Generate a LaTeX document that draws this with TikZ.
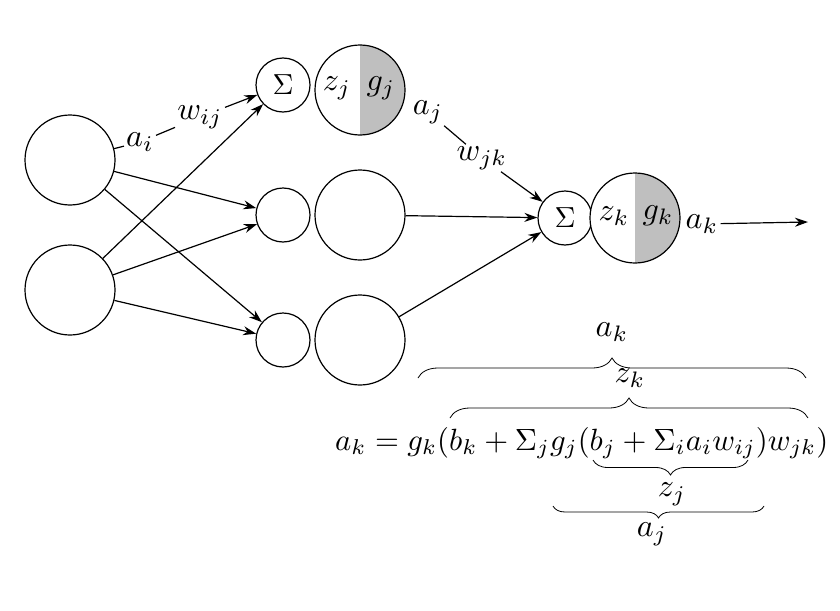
\documentclass[tikz,border=0pt]{standalone}
\usepackage{amsmath}
\usetikzlibrary{arrows.meta,decorations.pathreplacing,calc}

\tikzset{
  neuron/.style={circle, draw, very thick, fill=white, minimum size=90pt, inner sep=0pt},
  summer/.style={circle, draw, very thick, fill=white, minimum size=54pt, inner sep=0pt},
  sigma/.style={scale=2.9, inner sep=0pt},
  halfgray/.style={path picture={\fill[black!25] (path picture bounding box.north) rectangle (path picture bounding box.south east);}},
  link/.style={very thick, -{Stealth[length=13pt,width=9pt]}},
  lbl/.style={scale=3.2, inner sep=0.5pt},
  brc/.style={thick, decorate, decoration={brace, amplitude=#1}},
  brc/.default=20pt
}

\begin{document}
\begin{tikzpicture}[x=1pt, y=-1pt]
	\useasboundingbox (0,0) rectangle (840,610);

	% inputs
	\node[neuron] (in1) at (70,160) {};
	\node[neuron] (in2) at (70,290) {};

	% hidden layer
	\node[summer] (s1) at (283,85) {};
	\node[sigma] at (s1) {$\Sigma$};
	\node[neuron, halfgray] (h1) at (360,90) {};
	\node[lbl] (z1) at (337,88) {$z_j$};
	\node[lbl] (g1) at (381,88) {$g_j$};
	\node[summer] (s2) at (283,215) {};
	\node[neuron] (h2) at (360,215) {};
	\node[summer] (s3) at (283,340) {};
	\node[neuron] (h3) at (360,340) {};

	% output
	\node[summer] (so) at (565,218) {};
	\node[sigma] at (so) {$\Sigma$};
	\node[neuron, halfgray] (ho) at (635,218) {};
	\node[lbl] (zo) at (614,216) {$z_k$};
	\node[lbl] (go) at (658,216) {$g_k$};

	% labels
	\node[lbl] (ai) at (140,142) {$a_i$};
	\node[lbl] (wij) at (200,117) {$w_{ij}$};
	\node[lbl] (aj) at (428,112) {$a_j$};
	\node[lbl] (wjk) at (482,158) {$w_{jk}$};
	\node[lbl] (ak) at (702,224) {$a_k$};
	\coordinate (out) at (808,222);

	% connections
	\draw[very thick] (in1) -- (ai);
	\draw[very thick] (ai) -- (wij);
	\draw[link] (wij) -- (s1);
	\draw[link] (in1) -- (s2);
	\draw[link] (in1) -- (s3);
	\draw[link] (in2) -- (s1);
	\draw[link] (in2) -- (s2);
	\draw[link] (in2) -- (s3);
	\draw[very thick] (aj) -- (wjk);
	\draw[link] (wjk) -- (so);
	\draw[link] (h2) -- (so);
	\draw[link] (h3) -- (so);
	\draw[link] (ak) -- (out);

	% formula
	\node[lbl, scale=0.96, anchor=base west] (eq) at (333,450) {$a_k = g_k(b_k + \Sigma_j g_j(b_j + \Sigma_i a_i w_{ij}) w_{jk})$};
	\coordinate (bak1) at (418,378);
	\coordinate (bak2) at (806,378);
	\coordinate (bzk1) at (450,418);
	\coordinate (bzk2) at (808,418);
	\coordinate (bzj1) at (593,460);
	\coordinate (bzj2) at (748,460);
	\coordinate (baj1) at (553,506);
	\coordinate (baj2) at (764,506);
	\draw[brc] (bak1) -- (bak2);
	\draw[brc] (bzk1) -- (bzk2);
	\draw[brc=15pt] (bzj2) -- (bzj1);
	\draw[brc=12pt] (baj2) -- (baj1);
	\node[lbl] (lak) at (612,332) {$a_k$};
	\node[lbl] (lzk) at (630,378) {$z_k$};
	\node[lbl] (lzj) at (672,494) {$z_j$};
	\node[lbl] (laj) at (652,534) {$a_j$};
\end{tikzpicture}
\end{document}
